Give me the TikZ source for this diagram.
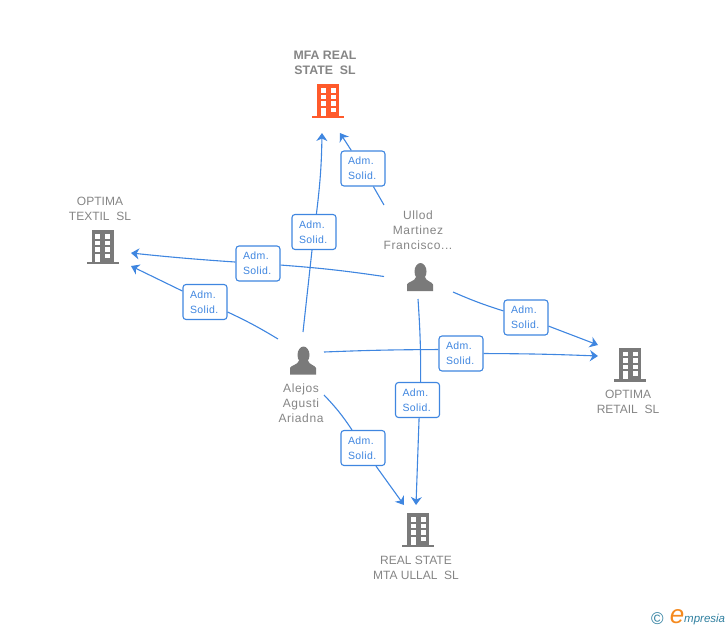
\documentclass[tikz,border=0pt]{standalone}
\usepackage{fontspec}
\setmainfont{Liberation Sans}
\usetikzlibrary{arrows.meta}
\definecolor{linkblue}{HTML}{3F86E0}
\definecolor{textgrey}{HTML}{858585}
\definecolor{icongrey}{HTML}{7A7A7A}
\definecolor{iconorange}{HTML}{FF5A2B}
\definecolor{logoteal}{HTML}{2F7F9F}
\definecolor{logoorange}{HTML}{F58A1F}
\tikzset{
	link/.style={linkblue, line width=1.1pt},
	solid label/.style={draw=linkblue, line width=1.1pt, fill=white, rounded corners=3pt, text=linkblue, font=\fontsize{10.5}{15}\selectfont\addfontfeature{LetterSpace=4}, text width=30pt, inner xsep=7pt, inner ysep=0pt, minimum height=35pt, align=left},
	name label/.style={text=textgrey, inner sep=0pt, align=center, font=\fontsize{12}{15}\selectfont},
	person label/.style={name label, font=\fontsize{12}{15}\selectfont\addfontfeature{LetterSpace=5}},
	pics/buildingicon/.style={code={
		\fill[#1] (-11,-17) rectangle (11,14.5);
		\fill[#1] (-16,14.5) rectangle (16,17);
		\foreach \wy in {-13,-6.5,0} {
			\fill[white] (-7.5,\wy) rectangle (-2.5,\wy+4.5);
			\fill[white] (2.5,\wy) rectangle (7.5,\wy+4.5);
		}
		\fill[white] (-7.5,6.5) rectangle (-2.5,14.5);
		\fill[white] (2.5,6.5) rectangle (7.5,11);
	}},
	pics/personicon/.style={code={
		\fill[icongrey] (0.5,-5.5) ellipse (6 and 8.5);
		\fill[icongrey] (-13,14) -- (-13,7.5) .. controls (-12,4.5) and (-5,4.5) .. (-4,0) -- (5,0) .. controls (6,4.5) and (12,4.5) .. (13,7.5) -- (13,14) -- cycle;
	}}
}
\begin{document}
\begin{tikzpicture}[x=1pt, y=-1pt, >={Stealth[length=8pt, width=11pt, inset=2.5pt]}]
	\useasboundingbox (0,0) rectangle (728,630);
% Companies
	\pic at (328,101) {buildingicon=iconorange};
	\node[name label, font=\fontsize{12.3}{15}\selectfont\bfseries] (mfa) at (325,62.5) {MFA REAL\\STATE\ \ SL};
	\pic at (102.5,247) {buildingicon=icongrey};
	\node[name label] (textil) at (100,208.5) {OPTIMA\\TEXTIL\ \ SL};
	\pic at (630,364.5) {buildingicon=icongrey};
	\node[name label] (retail) at (628,401.5) {OPTIMA\\RETAIL\ \ SL};
	\pic at (418,530) {buildingicon=icongrey};
	\node[name label] (ullal) at (416,567.5) {REAL STATE\\MTA ULLAL\ \ SL};
% People
	\pic at (420,277) {personicon};
	\node[person label] (ullod) at (418,230) {Ullod\\Martinez\\Francisco...};
	\pic at (303,360.5) {personicon};
	\node[person label] (alejos) at (301,403) {Alejos\\Agusti\\Ariadna};
% Free ends of the links
	\coordinate (ullodA) at (384,205);
	\coordinate (ullodB) at (384,276.5);
	\coordinate (ullodC) at (453,292);
	\coordinate (ullodD) at (418,299);
	\coordinate (alejosA) at (303,332);
	\coordinate (alejosB) at (278,339);
	\coordinate (alejosC) at (324,352);
	\coordinate (alejosD) at (324,395);
	\coordinate (mfaA) at (340,133);
	\coordinate (mfaB) at (322,133);
	\coordinate (textilA) at (131,253);
	\coordinate (textilB) at (131,266);
	\coordinate (retailA) at (598,345);
	\coordinate (retailB) at (598,356);
	\coordinate (ullalA) at (416,505);
	\coordinate (ullalB) at (404,505);
% Link labels
	\node[solid label] (solidA) at (363,168.5) {Adm.\\Solid.};
	\node[solid label] (solidB) at (314,232) {Adm.\\Solid.};
	\node[solid label] (solidC) at (258,263.5) {Adm.\\Solid.};
	\node[solid label] (solidD) at (205,302) {Adm.\\Solid.};
	\node[solid label] (solidE) at (526,317.5) {Adm.\\Solid.};
	\node[solid label] (solidF) at (461,353.5) {Adm.\\Solid.};
	\node[solid label] (solidG) at (417.5,400) {Adm.\\Solid.};
	\node[solid label] (solidH) at (363,448) {Adm.\\Solid.};
% Links
	\draw[link] (ullodA) -- (solidA);
	\draw[link, ->] (solidA) -- (mfaA);
	\draw[link] (alejosA) -- (solidB);
	\draw[link, ->] (solidB) to[bend right=3] (mfaB);
	\draw[link] (ullodB) to[bend right=2] (solidC);
	\draw[link, ->] (solidC) to[bend left=1] (textilA);
	\draw[link] (alejosB) to[bend right=3] (solidD);
	\draw[link, ->] (solidD) -- (textilB);
	\draw[link] (ullodC) to[bend right=3] (solidE);
	\draw[link, ->] (solidE) -- (retailA);
	\draw[link] (alejosC) to[bend left=1] (solidF.170);
	\draw[link, ->] (solidF) to[bend left=1] (retailB);
	\draw[link] (ullodD) to[bend left=2] (solidG.80);
	\draw[link, ->] (solidG.-85) -- (ullalA);
	\draw[link] (alejosD) to[bend left=5] (solidH);
	\draw[link, ->] (solidH) -- (ullalB);
% Logo
	\node[text=logoteal, inner sep=0pt, font=\fontsize{17}{17}\selectfont] (copyright) at (657.5,619) {©};
	\node[text=logoorange, inner sep=0pt, font=\fontsize{26}{26}\selectfont\itshape] (logoe) at (677,617) {e};
	\node[text=logoteal, inner sep=0pt, anchor=base west, font=\fontsize{11.5}{12}\selectfont\itshape] (logotext) at (684,622) {mpresia};
\end{tikzpicture}
\end{document}
